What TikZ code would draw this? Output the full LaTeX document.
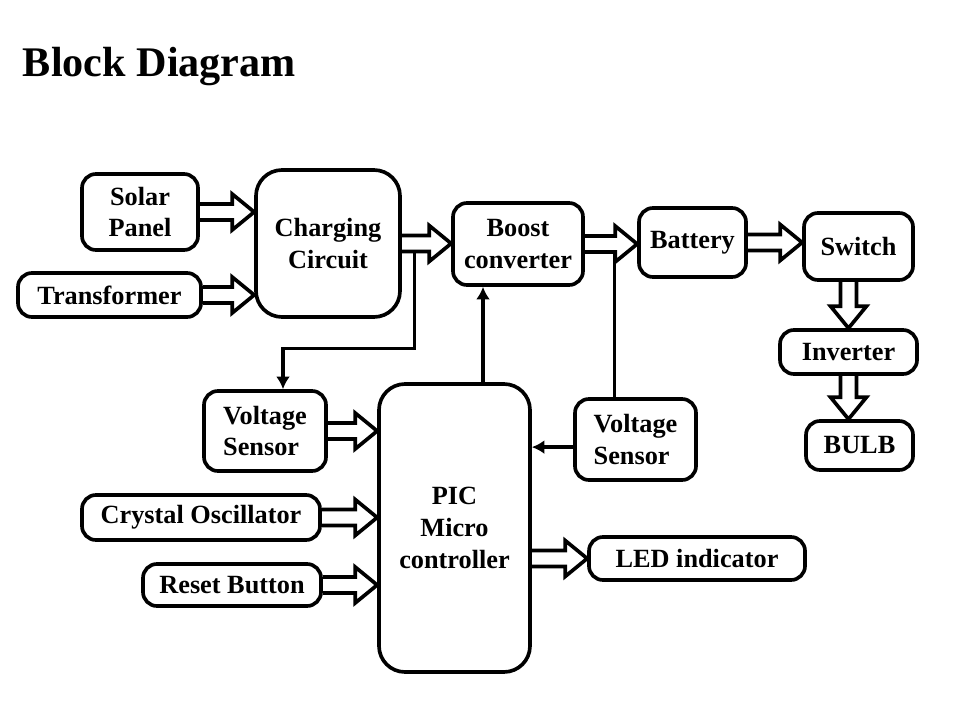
\documentclass[tikz,border=0pt]{standalone}
\usepackage{fontspec}
\setmainfont{Liberation Serif}
\usetikzlibrary{calc,arrows.meta}

\tikzset{
  block/.style={draw, line width=2.6pt, rounded corners=0.35cm, align=center,
    inner sep=0pt, font=\bfseries\fontsize{18.7}{22.5}\selectfont},
  bigblock/.style={block, rounded corners=0.65cm},
  fatline/.style={draw, line width=2.6pt, line join=miter},
  sigline/.style={line width=2.3pt},
  sigarrow/.style={sigline, -{Latex[length=9pt,width=10pt]}}
}
\newcommand{\shaftw}{0.2cm}
\newcommand{\headw}{0.45cm}
\newcommand{\headl}{0.55cm}
% hollow block arrow from #1 to #2
\newcommand{\fatarrow}[2]{%
  \coordinate (fa-s) at (#1);
  \coordinate (fa-e) at (#2);
  \coordinate (fa-b) at ($(fa-e)!\headl!(fa-s)$);
  \draw[fatline] ($(fa-s)!\shaftw!-90:(fa-e)$) -- ($(fa-b)!\shaftw!-90:(fa-e)$)
    -- ($(fa-b)!\headw!-90:(fa-e)$) -- (fa-e) -- ($(fa-b)!\headw!90:(fa-e)$)
    -- ($(fa-b)!\shaftw!90:(fa-e)$) -- ($(fa-s)!\shaftw!90:(fa-e)$);
}

\begin{document}
\begin{tikzpicture}
  \useasboundingbox (0,0) rectangle (24,18);
  \node[anchor=base west, font=\bfseries\fontsize{30}{36}\selectfont] (title) at (0.45,16.075) {Block Diagram};

  % blocks
  \node[block, minimum width=2.9cm, minimum height=1.9cm] (solar) at (3.5,12.7) {Solar\\ Panel};
  \node[block, minimum width=4.575cm, minimum height=1.1cm] (transformer) at (2.7375,10.625) {Transformer};
  \node[bigblock, minimum width=3.6cm, minimum height=3.675cm] (charging) at (8.2,11.9125) {Charging\\Circuit};
  \node[block, minimum width=3.25cm, minimum height=2.05cm] (boost) at (12.95,11.9) {Boost\\converter};
  \node[block, minimum width=2.675cm, minimum height=1.725cm] (battery) at (17.3125,11.9375) {Battery};
  \node[block, minimum width=2.725cm, minimum height=1.675cm] (switch) at (21.4625,11.8375) {Switch};
  \node[block, minimum width=3.425cm, minimum height=1.1cm] (inverter) at (21.2125,9.2) {Inverter};
  \node[block, minimum width=2.675cm, minimum height=1.225cm] (bulb) at (21.4875,6.8625) {BULB};
  \node[block, align=left, minimum width=3.05cm, minimum height=2cm] (vsl) at (6.625,7.225) {Voltage\\Sensor};
  \node[bigblock, minimum width=3.775cm, minimum height=7.2cm] (pic) at (11.3625,4.8) {PIC\\Micro\\controller};
  \node[block, align=left, minimum width=3.025cm, minimum height=2.025cm] (vsr) at (15.8875,7.0125) {Voltage\\Sensor};
  \node[block, minimum width=5.95cm, minimum height=1.125cm] (crystal) at (5.025,5.0625) {Crystal Oscillator};
  \node[block, minimum width=4.45cm, minimum height=1.05cm] (reset) at (5.8,3.375) {Reset Button};
  \node[block, minimum width=5.4cm, minimum height=1.075cm] (led) at (17.425,4.0375) {LED indicator};

  % power path
  \fatarrow{solar.east}{solar.east -| charging.west}
  \fatarrow{transformer.east}{transformer.east -| charging.west}
  \fatarrow{charging.east}{charging.east -| boost.west}
  \fatarrow{boost.east}{boost.east -| battery.west}
  \fatarrow{battery.east}{battery.east -| switch.west}
  \fatarrow{inverter.north |- switch.south}{inverter.north}
  \fatarrow{inverter.south}{inverter.south |- bulb.north}

  % controller inputs and outputs
  \fatarrow{vsl.east}{vsl.east -| pic.west}
  \fatarrow{crystal.east}{crystal.east -| pic.west}
  \fatarrow{reset.east}{reset.east -| pic.west}
  \fatarrow{pic.east |- led.west}{led.west}

  % sensing lines
  \coordinate (tap1) at ($(charging.east)+(0.325,-0.2)$);
  \coordinate (vsl-in) at ([xshift=0.45cm]vsl.north);
  \coordinate (vsl-bend) at ($(vsl-in)+(0,1.025)$);
  \draw[sigarrow] (tap1) |- (vsl-bend) -- (vsl-in);
  \coordinate (pic-up) at ([xshift=0.7125cm]pic.north);
  \draw[sigarrow] (pic-up) -- (pic-up |- boost.south);
  \coordinate (tap2) at ($(boost.east)+(0.75,-0.2)$);
  \draw[sigline] (tap2) -- (tap2 |- vsr.north);
  \coordinate (vsr-out) at ([yshift=-0.19cm]vsr.west);
  \draw[sigarrow] (vsr-out) -- (vsr-out -| pic.east);
\end{tikzpicture}
\end{document}
